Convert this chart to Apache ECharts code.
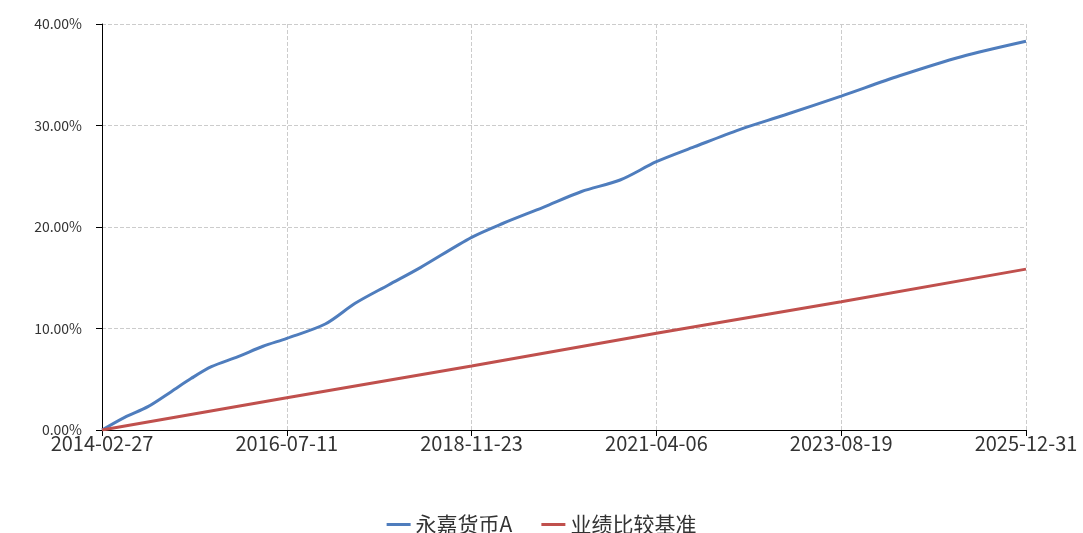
<!DOCTYPE html>
<html>
<head>
<meta charset="utf-8">
<script src="https://cdn.jsdelivr.net/npm/echarts@6/dist/echarts.min.js"></script>
<style>
html,body{margin:0;padding:0;background:#fff;}
#chart{width:1083px;height:533px;}
</style>
</head>
<body>
<div id="chart"></div>
<script>
const seriesNames = ['永嘉货币A', '业绩比较基准'];
const tickLabels = ['2014-02-27', '2016-07-11', '2018-11-23', '2021-04-06', '2023-08-19', '2025-12-31'];

const fundDates = ['2014-02-27','2014-06-13','2014-09-30','2015-01-17','2015-04-21','2015-07-24','2015-11-26','2016-03-22','2016-07-11','2017-01-07','2017-05-27','2017-10-30','2018-03-28','2018-11-23','2019-04-20','2019-10-24','2020-04-21','2020-10-18','2021-04-06','2021-10-02','2022-04-30','2022-11-27','2023-08-19','2024-05-18','2025-03-03','2025-12-31'];
const fundValues = [0, 1.25, 2.30, 3.78, 5.09, 6.24, 7.23, 8.25, 9.03, 10.44, 12.48, 14.29, 16.00, 18.98, 20.37, 21.94, 23.50, 24.63, 26.43, 27.91, 29.60, 31.03, 32.90, 34.90, 36.78, 38.30];

const benchDates = ['2014-02-27','2016-07-11','2018-11-23','2021-04-06','2023-08-19','2025-12-31'];
const benchValues = [0, 3.17, 6.31, 9.53, 12.64, 15.85];

const base = Date.parse(tickLabels[0]);
const lastDay = (Date.parse(tickLabels[tickLabels.length - 1]) - base) / 86400000;
const step = lastDay / (tickLabels.length - 1);
const dayOf = d => (Date.parse(d) - base) / 86400000;

const fundData = fundDates.map((d, i) => [dayOf(d), fundValues[i]]);
const benchData = benchDates.map((d, i) => [dayOf(d), benchValues[i]]);

const font = '"Noto Sans CJK SC", "Microsoft YaHei", sans-serif';
const chart = echarts.init(document.getElementById('chart'), null, {renderer: 'canvas'});
chart.setOption({
  animation: false,
  textStyle: {fontFamily: font},
  grid: {left: 102, right: 57, top: 24, bottom: 103, containLabel: false},
  legend: {
    top: 509,
    left: 'center',
    icon: 'rect',
    itemWidth: 24,
    itemHeight: 3,
    itemGap: 29,
    textStyle: {fontSize: 21, color: '#333', fontFamily: font},
    data: seriesNames
  },
  xAxis: {
    type: 'value',
    min: 0,
    max: lastDay,
    interval: step,
    axisLine: {show: true, lineStyle: {color: '#000', width: 1}},
    axisTick: {show: true, length: 6, lineStyle: {color: '#000'}},
    axisLabel: {
      fontSize: 20, color: '#333', margin: 3, fontFamily: font,
      formatter: v => tickLabels[Math.round(v / step)] || ''
    },
    splitLine: {show: true, lineStyle: {color: '#ccc', type: 'dashed'}}
  },
  yAxis: {
    type: 'value',
    min: 0,
    max: 40,
    interval: 10,
    axisLine: {show: true, lineStyle: {color: '#000', width: 1}},
    axisTick: {show: true, length: 6, lineStyle: {color: '#000'}},
    axisLabel: {
      fontSize: 14, color: '#333', margin: 20, fontFamily: font,
      padding: [3, 0, 0, 0],
      formatter: v => v.toFixed(2) + '%'
    },
    splitLine: {show: true, lineStyle: {color: '#ccc', type: 'dashed'}}
  },
  series: [
    {
      name: seriesNames[0], type: 'line', data: fundData, showSymbol: false, smooth: 0.3,
      lineStyle: {color: '#4F7DBD', width: 3}, itemStyle: {color: '#4F7DBD'}
    },
    {
      name: seriesNames[1], type: 'line', data: benchData, showSymbol: false,
      lineStyle: {color: '#C0504D', width: 3}, itemStyle: {color: '#C0504D'}
    }
  ]
});
</script>
</body>
</html>
